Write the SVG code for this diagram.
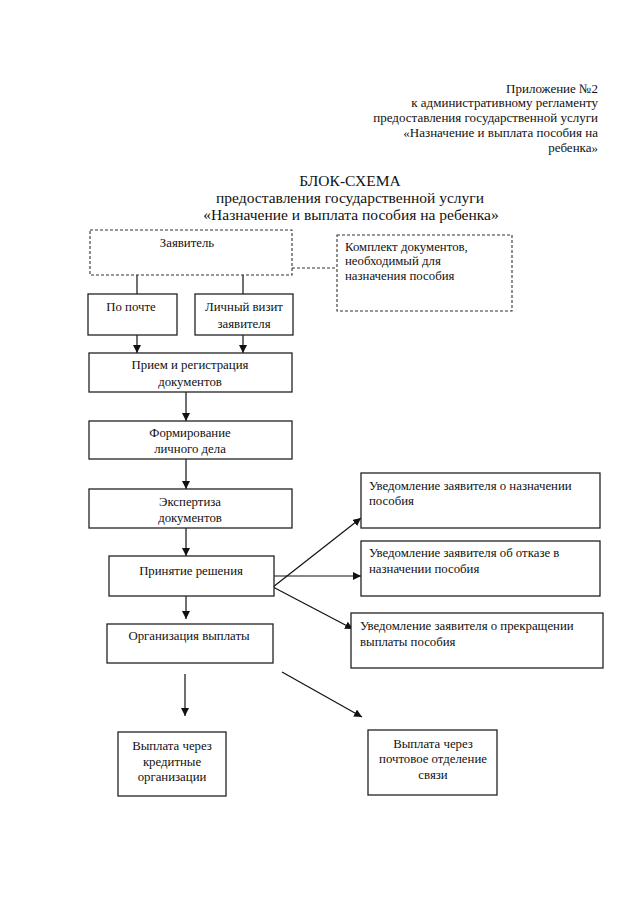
<svg xmlns="http://www.w3.org/2000/svg" width="640" height="908" viewBox="0 0 640 908">
<defs>
<style>
text{font-family:"Liberation Serif","Times New Roman",serif;fill:#111;}
.hd{font-size:13px;text-anchor:end;}
.tt{font-size:15.5px;text-anchor:middle;}
.t{font-size:12.8px;}
.c{text-anchor:middle;}
.box{fill:#fff;stroke:#222;stroke-width:1.3;}
.dbox{fill:#fff;stroke:#333;stroke-width:1.1;stroke-dasharray:3 2;}
.ln{stroke:#111;stroke-width:1.2;fill:none;}
.dl{stroke:#333;stroke-width:1.1;fill:none;stroke-dasharray:3 2;}
</style>
<marker id="ar" viewBox="0 0 10 10" refX="10" refY="5" markerWidth="8" markerHeight="8" markerUnits="userSpaceOnUse" orient="auto">
<path d="M0,0 L10,5 L0,10 z" fill="#111"/>
</marker>
</defs>
<rect width="640" height="908" fill="#fff"/>
<g id="header">
<text class="hd" x="598" y="93">Приложение №2</text>
<text class="hd" x="598" y="107">к административному регламенту</text>
<text class="hd" x="598" y="122">предоставления государственной услуги</text>
<text class="hd" x="598" y="137">«Назначение и выплата пособия на</text>
<text class="hd" x="598" y="152">ребенка»</text>
</g>
<g id="title">
<text class="tt" x="350" y="186">БЛОК-СХЕМА</text>
<text class="tt" x="350" y="203">предоставления государственной услуги</text>
<text class="tt" x="351" y="220">«Назначение и выплата пособия на ребенка»</text>
</g>
<g id="connectors">
<line class="dl" x1="292" y1="268" x2="337" y2="268"/>
<line class="ln" x1="137" y1="275" x2="137" y2="294"/>
<line class="ln" x1="243" y1="275" x2="243" y2="294"/>
<line class="ln" x1="137" y1="335" x2="137" y2="353" marker-end="url(#ar)"/>
<line class="ln" x1="243" y1="335" x2="243" y2="353" marker-end="url(#ar)"/>
<line class="ln" x1="186" y1="392" x2="186" y2="421" marker-end="url(#ar)"/>
<line class="ln" x1="186" y1="459" x2="186" y2="489" marker-end="url(#ar)"/>
<line class="ln" x1="186" y1="528" x2="186" y2="556" marker-end="url(#ar)"/>
<line class="ln" x1="186" y1="594" x2="186" y2="619" marker-end="url(#ar)"/>
<line class="ln" x1="273" y1="587" x2="361" y2="518" marker-end="url(#ar)"/>
<line class="ln" x1="274" y1="576" x2="361" y2="576" marker-end="url(#ar)"/>
<line class="ln" x1="273" y1="587" x2="353" y2="629" marker-end="url(#ar)"/>
<line class="ln" x1="185" y1="674" x2="185" y2="716" marker-end="url(#ar)"/>
<line class="ln" x1="282" y1="672" x2="362" y2="717" marker-end="url(#ar)"/>
</g>
<g id="zayavitel">
<rect class="dbox" x="90" y="230" width="202" height="45"/>
<text class="t c" x="187" y="247">Заявитель</text>
</g>
<g id="komplekt">
<rect class="dbox" x="337" y="235" width="175" height="76"/>
<text class="t" x="345" y="251">Комплект документов,</text>
<text class="t" x="345" y="265">необходимый для</text>
<text class="t" x="345" y="280">назначения пособия</text>
</g>
<g id="po-pochte">
<rect class="box" x="88" y="294" width="89" height="41"/>
<text class="t c" x="131" y="311">По почте</text>
</g>
<g id="lichny-vizit">
<rect class="box" x="195" y="294" width="98" height="41"/>
<text class="t c" x="244" y="311">Личный визит</text>
<text class="t c" x="244" y="328">заявителя</text>
</g>
<g id="priem">
<rect class="box" x="89" y="353" width="203" height="39"/>
<text class="t c" x="190" y="369">Прием и регистрация</text>
<text class="t c" x="190" y="386">документов</text>
</g>
<g id="formirovanie">
<rect class="box" x="89" y="421" width="203" height="38"/>
<text class="t c" x="190" y="437">Формирование</text>
<text class="t c" x="190" y="453">личного дела</text>
</g>
<g id="ekspertiza">
<rect class="box" x="89" y="489" width="203" height="39"/>
<text class="t c" x="190" y="506">Экспертиза</text>
<text class="t c" x="190" y="522">документов</text>
</g>
<g id="prinyatie">
<rect class="box" x="109" y="556" width="165" height="40"/>
<text class="t c" x="191" y="575">Принятие решения</text>
</g>
<g id="organizaciya">
<rect class="box" x="107" y="624" width="166" height="39"/>
<text class="t c" x="189" y="640">Организация выплаты</text>
</g>
<g id="uved-naznach">
<rect class="box" x="361" y="473" width="239" height="55"/>
<text class="t" x="369" y="490">Уведомление заявителя о назначении</text>
<text class="t" x="369" y="505">пособия</text>
</g>
<g id="uved-otkaz">
<rect class="box" x="361" y="541" width="239" height="55"/>
<text class="t" x="369" y="557">Уведомление заявителя об отказе в</text>
<text class="t" x="369" y="573">назначении пособия</text>
</g>
<g id="uved-prekr">
<rect class="box" x="351" y="613" width="252" height="55"/>
<text class="t" x="360" y="630">Уведомление заявителя о прекращении</text>
<text class="t" x="360" y="646">выплаты пособия</text>
</g>
<g id="vyplata-kredit">
<rect class="box" x="118" y="732" width="108" height="64"/>
<text class="t c" x="172" y="750">Выплата через</text>
<text class="t c" x="172" y="766">кредитные</text>
<text class="t c" x="172" y="781">организации</text>
</g>
<g id="vyplata-pochta">
<rect class="box" x="368" y="730" width="129" height="65"/>
<text class="t c" x="433" y="748">Выплата через</text>
<text class="t c" x="433" y="763">почтовое отделение</text>
<text class="t c" x="433" y="779">связи</text>
</g>
</svg>
